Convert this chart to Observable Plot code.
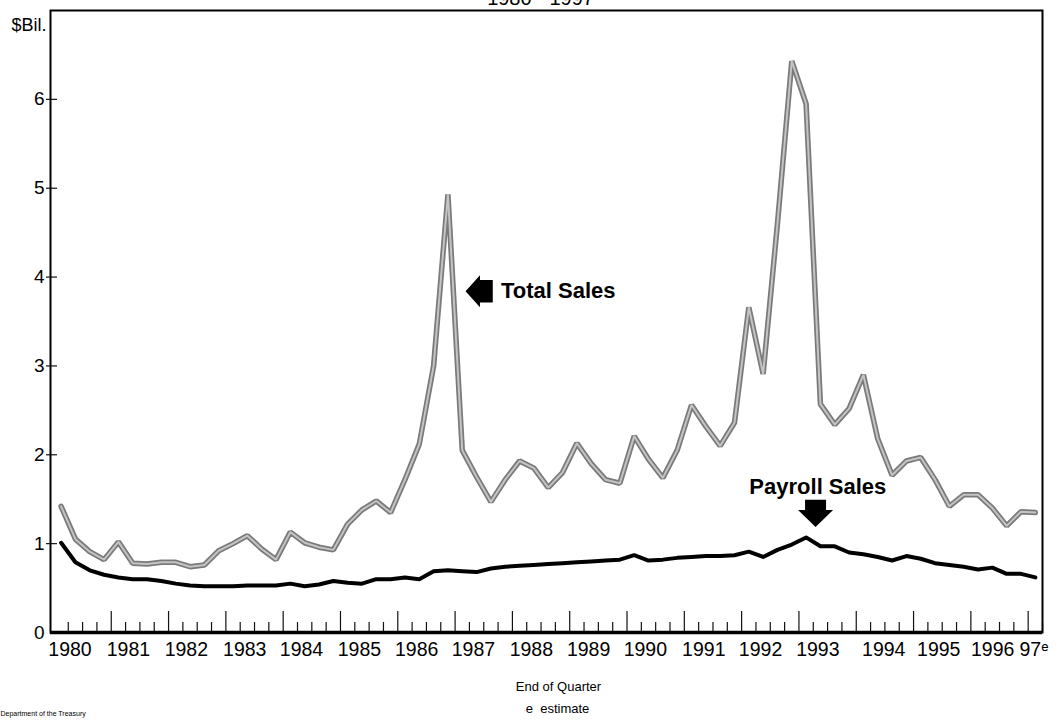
<!DOCTYPE html>
<html><head><meta charset="utf-8">
<script src="https://cdn.jsdelivr.net/npm/d3@7"></script>
<script src="https://cdn.jsdelivr.net/npm/@observablehq/plot@0.6"></script>
<style>body{margin:0;background:#fff;} svg{overflow:visible}</style>
</head><body><div id="chart"></div>
<script>
// Quarters 1980 Q1 .. 1997 Q1 (end of quarter data, plotted mid-quarter)
const firstYear = 1980;
const quarters = [];
for (let y = 1980; y <= 1997; y++) for (let q = 1; q <= 4; q++) if (quarters.length < 69) quarters.push(`${y} Q${q}`);

const totalSales = [1.42,1.05,0.91,0.82,1.02,0.78,0.77,0.79,0.79,0.74,0.76,0.92,1.00,1.09,0.94,0.82,1.13,1.01,0.96,0.93,
  1.22,1.38,1.48,1.35,1.72,2.12,3.00,4.93,2.05,1.75,1.47,1.72,1.93,1.85,1.63,1.80,2.13,1.90,1.72,1.68,
  2.21,1.95,1.74,2.05,2.56,2.32,2.10,2.36,3.66,2.91,4.60,6.43,5.95,2.57,2.34,2.52,2.90,2.18,1.77,1.93,
  1.97,1.72,1.42,1.55,1.55,1.40,1.20,1.36,1.35];
const payrollSales = [1.01,0.79,0.70,0.65,0.62,0.60,0.60,0.58,0.55,0.53,0.52,0.52,0.52,0.53,0.53,0.53,0.55,0.52,0.54,0.58,
  0.56,0.55,0.60,0.60,0.62,0.60,0.69,0.70,0.69,0.68,0.72,0.74,0.75,0.76,0.77,0.78,0.79,0.80,0.81,0.82,
  0.87,0.81,0.82,0.84,0.85,0.86,0.86,0.87,0.91,0.85,0.93,0.99,1.07,0.97,0.97,0.90,0.88,0.85,0.81,0.86,
  0.83,0.78,0.76,0.74,0.71,0.73,0.66,0.66,0.62];

const yearLabels = ["1980","1981","1982","1983","1984","1985","1986","1987","1988","1989","1990","1991","1992","1993","1994","1995","1996","97\u1D49"];
const yearLabelAt = [1980.28,1981.30,1982.31,1983.33,1984.32,1985.33,1986.33,1987.32,1988.33,1989.33,1990.32,1991.34,1992.33,1993.33,1994.48,1995.44,1996.38,1997.10];
const yTicks = [0,1,2,3,4,5,6];

const qx = s => { const [y, q] = s.split(" Q"); return +y + (+q - 0.5) / 4; };
const table = quarters.map((q, i) => ({q, x: qx(q), total: totalSales[i], payroll: payrollSales[i]}));
const quarterEnds = quarters.map(q => qx(q) + 0.125);
const majorEnds = quarterEnds.filter(v => Math.abs(v - Math.round(v)) < 1e-6);
const minorEnds = quarterEnds.filter(v => Math.abs(v - Math.round(v)) >= 1e-6);

const W = 1061, H = 721, mL = 50, mR = 19, mT = 10, mB = 89;
const frameW = W - mL - mR, frameH = H - mT - mB;

const leftArrow = {draw(ctx, size) {
  const r = Math.sqrt(size / Math.PI);
  ctx.moveTo(-r * 0.85, 0); ctx.lineTo(0.05 * r, -r); ctx.lineTo(0.05 * r, -0.7 * r);
  ctx.lineTo(0.85 * r, -0.7 * r); ctx.lineTo(0.85 * r, 0.7 * r); ctx.lineTo(0.05 * r, 0.7 * r);
  ctx.lineTo(0.05 * r, r); ctx.closePath();
}};
const downArrow = {draw(ctx, size) {
  const r = Math.sqrt(size / Math.PI);
  ctx.moveTo(0, r * 0.78); ctx.lineTo(-r, -0.2 * r); ctx.lineTo(-0.6 * r, -0.2 * r);
  ctx.lineTo(-0.6 * r, -0.78 * r); ctx.lineTo(0.6 * r, -0.78 * r); ctx.lineTo(0.6 * r, -0.2 * r);
  ctx.lineTo(r, -0.2 * r); ctx.closePath();
}};

const font = "Liberation Sans, Arial, Helvetica, sans-serif";
const chart = Plot.plot({
  width: W, height: H, marginLeft: mL, marginRight: mR, marginTop: mT, marginBottom: mB,
  style: {fontFamily: font, background: "#fff", color: "#000"},
  x: {type: "linear", domain: [1979.94, 1997.25], axis: null},
  y: {domain: [0, 7], axis: null},
  marks: [
    Plot.ruleX(minorEnds, {x: d => d, insetTop: frameH - 10, stroke: "#111", strokeWidth: 1.2}),
    Plot.ruleX(majorEnds, {x: d => d, insetTop: frameH - 21, stroke: "#111", strokeWidth: 1.2}),
    Plot.ruleY(yTicks.filter(d => d > 0), {y: d => d, insetLeft: -4, insetRight: frameW - 7, stroke: "#111", strokeWidth: 1.2}),
    Plot.line(table, {x: "x", y: "total", stroke: "#7a7a7a", strokeWidth: 5.5, strokeLinejoin: "miter"}),
    Plot.line(table, {x: "x", y: "total", stroke: "#c4c4c4", strokeWidth: 2, strokeLinejoin: "miter"}),
    Plot.line(table, {x: "x", y: "payroll", stroke: "#000", strokeWidth: 4, strokeLinejoin: "round"}),
    Plot.frame({stroke: "#000", strokeWidth: 2}),
    Plot.ruleY([0], {stroke: "#000", strokeWidth: 3.5}),
    Plot.text(yTicks, {y: d => d, text: d => String(d), frameAnchor: "left", dx: -6, textAnchor: "end", fontSize: 19}),
    Plot.text(["$Bil."], {frameAnchor: "top-left", dx: -4, dy: 8, textAnchor: "end", fontSize: 18}),
    Plot.text(yearLabelAt, {x: d => d, text: (d, i) => yearLabels[i], frameAnchor: "bottom", dy: 23, fontSize: 19.5}),
    Plot.text(["End of Quarter"], {frameAnchor: "bottom", dx: 12, dy: 58, fontSize: 13}),
    Plot.text(["e  estimate"], {frameAnchor: "bottom", dx: 11, dy: 80, fontSize: 13}),
    Plot.text(["Department of the Treasury"], {frameAnchor: "bottom-left", dx: -50, dy: 83, textAnchor: "start", fontSize: 7}),
    Plot.text(["1980 - 1997"], {frameAnchor: "top", dx: -6, dy: -6, lineAnchor: "bottom", fontSize: 20}),
    Plot.dot([0], {x: 1987.42, y: 3.84, symbol: leftArrow, r: 16, fill: "#000", stroke: null}),
    Plot.text(["Total Sales"], {x: 1987.80, y: 3.84, textAnchor: "start", fontSize: 22, fontWeight: "bold"}),
    Plot.text(["Payroll Sales"], {x: 1993.33, y: 1.64, fontSize: 22, fontWeight: "bold"}),
    Plot.dot([0], {x: 1993.29, y: 1.34, symbol: downArrow, r: 17.5, fill: "#000", stroke: null})
  ]
});
document.getElementById("chart").appendChild(chart);
</script>
</body></html>
